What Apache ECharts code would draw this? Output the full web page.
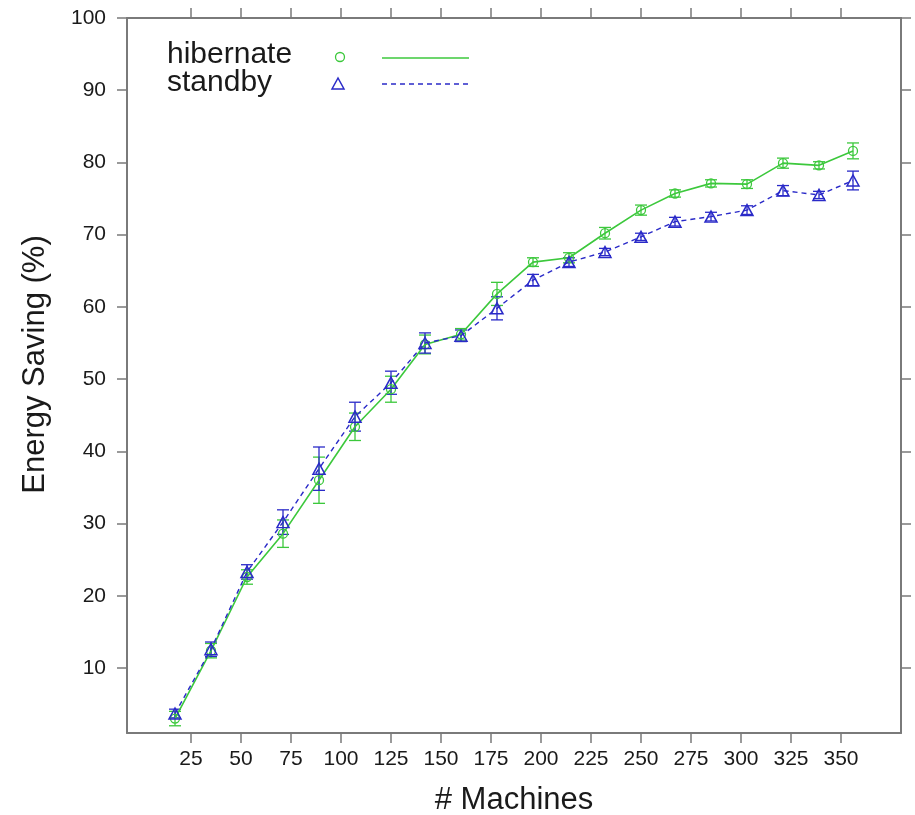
<!DOCTYPE html>
<html>
<head>
<meta charset="utf-8">
<script src="https://cdn.jsdelivr.net/npm/echarts@6/dist/echarts.min.js"></script>
<style>html,body{margin:0;padding:0;background:#fff}#c{width:915px;height:815px}</style>
</head>
<body>
<div id="c"></div>
<script>
// ---- data ----
const machines = [17, 35, 53, 71, 89, 107, 125, 142, 160, 178, 196, 214, 232, 250, 267, 285, 303, 321, 339, 356];
const hibernate = [3.0, 12.4, 22.6, 28.6, 36.0, 43.4, 48.6, 54.8, 56.2, 61.8, 66.2, 66.8, 70.2, 73.4, 75.7, 77.1, 77.0, 79.9, 79.6, 81.6];
const hibernateErr = [1.0, 1.0, 1.0, 1.9, 3.2, 1.9, 1.8, 1.3, 0.8, 1.6, 0.6, 0.7, 0.8, 0.7, 0.5, 0.5, 0.6, 0.7, 0.5, 1.1];
const standby = [3.7, 12.6, 23.3, 30.2, 37.6, 44.8, 49.5, 55.0, 56.0, 59.8, 63.7, 66.2, 67.6, 69.7, 71.8, 72.5, 73.4, 76.1, 75.5, 77.5];
const standbyErr = [0.6, 1.0, 1.0, 1.7, 3.0, 2.0, 1.6, 1.4, 0.8, 1.6, 0.8, 0.6, 0.5, 0.5, 0.6, 0.6, 0.6, 0.7, 0.5, 1.3];
const xTicks = [25, 50, 75, 100, 125, 150, 175, 200, 225, 250, 275, 300, 325, 350];
const yTicks = [10, 20, 30, 40, 50, 60, 70, 80, 90, 100];
const seriesNames = ['hibernate', 'standby'];

const GREEN = '#3cc83c', BLUE = '#2a2ac8', AXIS = '#7a7a7a';
const FONT = 'Liberation Sans, Arial, Helvetica, sans-serif';

const chart = echarts.init(document.getElementById('c'), null, {renderer: 'canvas'});

function pts(ys) { return machines.map((x, i) => [x, ys[i]]); }
function errData(ys, es) { return machines.map((x, i) => [x, ys[i] - es[i], ys[i] + es[i]]); }
function errSeries(ys, es, color) {
  return {
    type: 'custom',
    data: errData(ys, es),
    z: 3,
    silent: true,
    renderItem: function (params, api) {
      const x = api.value(0);
      const lo = api.coord([x, api.value(1)]);
      const hi = api.coord([x, api.value(2)]);
      const w = 6;
      const st = {stroke: color, lineWidth: 1.3};
      return {
        type: 'group',
        children: [
          {type: 'line', shape: {x1: lo[0], y1: lo[1], x2: hi[0], y2: hi[1]}, style: st},
          {type: 'line', shape: {x1: lo[0] - w, y1: lo[1], x2: lo[0] + w, y2: lo[1]}, style: st},
          {type: 'line', shape: {x1: hi[0] - w, y1: hi[1], x2: hi[0] + w, y2: hi[1]}, style: st}
        ]
      };
    }
  };
}

const tickStyle = {show: true, length: 10, lineStyle: {color: AXIS, width: 1.5}};
const lineStyleAxis = {show: true, onZero: false, lineStyle: {color: AXIS, width: 2}};

const option = {
  backgroundColor: '#fff',
  animation: false,
  grid: {left: 127, right: 14, top: 18, bottom: 82, containLabel: false, outerBoundsMode: 'none'},
  xAxis: [
    {
      type: 'value', min: -7, max: 380, position: 'bottom',
      name: '# Machines', nameLocation: 'middle', nameGap: 52,
      nameTextStyle: {fontFamily: FONT, fontSize: 31, color: '#1a1a1a'},
      axisLine: lineStyleAxis,
      axisTick: Object.assign({customValues: xTicks}, tickStyle),
      axisLabel: {customValues: xTicks, fontFamily: FONT, fontSize: 21, color: '#1a1a1a', margin: 16},
      splitLine: {show: false}
    },
    {
      type: 'value', min: -7, max: 380, position: 'top',
      axisLine: lineStyleAxis,
      axisTick: Object.assign({customValues: xTicks}, tickStyle),
      axisLabel: {show: false},
      splitLine: {show: false}
    }
  ],
  yAxis: [
    {
      type: 'value', min: 1, max: 100, position: 'left',
      name: 'Energy Saving (%)', nameLocation: 'middle', nameGap: 76, nameRotate: 90,
      nameTextStyle: {fontFamily: FONT, fontSize: 31, color: '#1a1a1a', padding: [0, 0, 0, 22]},
      axisLine: lineStyleAxis,
      axisTick: Object.assign({customValues: yTicks}, tickStyle),
      axisLabel: {customValues: yTicks, fontFamily: FONT, fontSize: 21, color: '#1a1a1a', margin: 21},
      splitLine: {show: false}
    },
    {
      type: 'value', min: 1, max: 100, position: 'right',
      axisLine: lineStyleAxis,
      axisTick: Object.assign({customValues: yTicks}, tickStyle),
      axisLabel: {show: false},
      splitLine: {show: false}
    }
  ],
  series: [
    {
      name: seriesNames[0], type: 'line', data: pts(hibernate), z: 4,
      symbol: 'circle', symbolSize: 9,
      itemStyle: {color: 'rgba(0,0,0,0)', borderColor: GREEN, borderWidth: 1.3},
      lineStyle: {color: GREEN, width: 1.6, type: 'solid'}
    },
    errSeries(hibernate, hibernateErr, GREEN),
    {
      name: seriesNames[1], type: 'line', data: pts(standby), z: 5,
      symbol: 'triangle', symbolSize: [12, 11],
      itemStyle: {color: 'rgba(0,0,0,0)', borderColor: BLUE, borderWidth: 1.5},
      lineStyle: {color: BLUE, width: 1.4, type: [5, 4]}
    },
    errSeries(standby, standbyErr, BLUE)
  ],
  graphic: [
    {type: 'text', left: 167, top: 40, style: {text: seriesNames[0], font: '30px ' + FONT, fill: '#1a1a1a'}},
    {type: 'text', left: 167, top: 68, style: {text: seriesNames[1], font: '30px ' + FONT, fill: '#1a1a1a'}},
    {type: 'circle', shape: {cx: 340, cy: 57, r: 4.5}, style: {fill: 'none', stroke: GREEN, lineWidth: 1.3}},
    {type: 'polygon', shape: {points: [[338, 78], [332, 89], [344, 89]]}, style: {fill: 'none', stroke: BLUE, lineWidth: 1.5}},
    {type: 'line', shape: {x1: 382, y1: 58, x2: 469, y2: 58}, style: {stroke: GREEN, lineWidth: 1.6}},
    {type: 'line', shape: {x1: 382, y1: 84, x2: 469, y2: 84}, style: {stroke: BLUE, lineWidth: 1.4, lineDash: [5, 4]}}
  ]
};
chart.setOption(option);
</script>
</body>
</html>
